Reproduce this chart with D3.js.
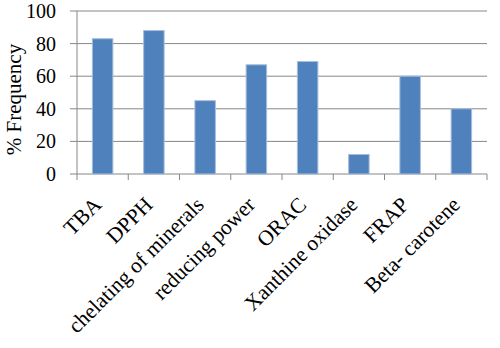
<!DOCTYPE html>
<html><head><meta charset="utf-8">
<script src="https://cdn.jsdelivr.net/npm/d3@7"></script>
<style>body{margin:0;background:#fff}svg{display:block}</style>
</head><body>
<svg id="c" width="500" height="348"></svg>
<script>
const categories = ["TBA","DPPH","chelating of minerals","reducing power","ORAC","Xanthine oxidase","FRAP","Beta- carotene"];
const values = [83, 88, 45, 67, 69, 12, 60, 40];
const yTicks = [0, 20, 40, 60, 80, 100];
const yLabel = "% Frequency";

const svg = d3.select("#c");
const L = 77, R = 487, T = 11, B = 174;
const x = d3.scaleBand().domain(categories).range([L, R]).padding(0);
const y = d3.scaleLinear().domain([0, 100]).range([B, T]);
const font = "Liberation Serif, Times New Roman, serif";

svg.append("g").selectAll("line").data(yTicks).join("line")
  .attr("x1", L - 7).attr("x2", R).attr("y1", d => y(d)).attr("y2", d => y(d))
  .attr("stroke", "#878787").attr("stroke-width", 1);

svg.append("line").attr("x1", L).attr("x2", L).attr("y1", T).attr("y2", B)
  .attr("stroke", "#878787");

const xt = categories.map(c => x(c)).concat([R]);
svg.append("g").selectAll("line").data(xt).join("line")
  .attr("x1", d => d).attr("x2", d => d).attr("y1", B).attr("y2", B + 6)
  .attr("stroke", "#878787");

const bw = x.bandwidth() * 0.4;
svg.append("g").selectAll("rect").data(values).join("rect")
  .attr("x", (d, i) => x(categories[i]) + x.bandwidth() / 2 - bw / 2)
  .attr("y", d => y(d)).attr("width", bw).attr("height", d => B - y(d))
  .attr("fill", "#4F81BD").attr("stroke", "#A7BEDD").attr("stroke-width", 1);

svg.append("g").selectAll("text").data(yTicks).join("text")
  .attr("x", 56).attr("y", d => y(d)).attr("dy", "0.35em")
  .attr("text-anchor", "end").attr("font-family", font).attr("font-size", 20)
  .attr("fill", "#000").text(d => d);

svg.append("text").attr("transform", `translate(21,${(T + B) / 2 + 7}) rotate(-90)`)
  .attr("text-anchor", "middle").attr("font-family", font).attr("font-size", 21)
  .text(yLabel);

svg.append("g").selectAll("text").data(categories).join("text")
  .attr("transform", c => `translate(${x(c) + x.bandwidth() / 2},${B + 32}) rotate(-45)`)
  .attr("text-anchor", "end").attr("font-family", font).attr("font-size", 21.5)
  .text(c => c);
</script>
</body></html>
